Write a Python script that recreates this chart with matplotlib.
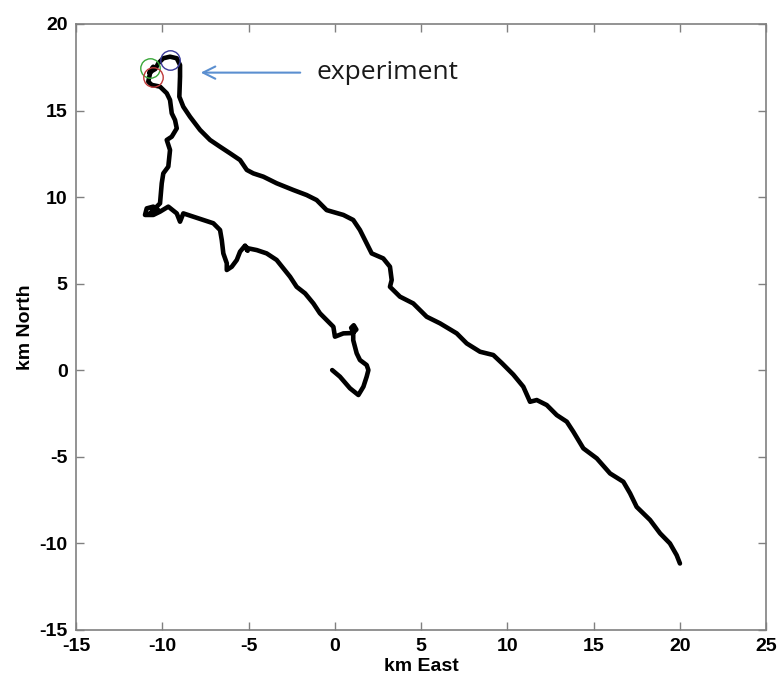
import numpy as np
import matplotlib
matplotlib.use('Agg')
import matplotlib.pyplot as plt

plt.rcParams['font.family'] = ['Liberation Sans', 'DejaVu Sans']
plt.rcParams['axes.unicode_minus'] = False

# track, km east / km north, start at origin
track_x = [-0.15, 0.30, 0.88, 1.37, 1.66, 1.85, 1.95, 1.85, 1.46, 1.27, 1.17, 1.07, 1.07,
           0.95, 1.10, 1.25, 1.05, 0.50, 0.01, -0.08, -0.47, -0.86, -1.24, -1.72, -2.21,
           -2.59, -2.98, -3.37, -3.95, -4.52, -5.01, -5.20, -5.05, -5.20, -5.49, -5.68,
           -5.97, -6.26, -6.26, -6.46, -6.55, -6.65, -7.04, -7.62, -8.20, -8.78, -8.97,
           -9.16, -9.65, -10.13, -10.52, -11.00, -10.90, -10.52, -10.23, -10.71, -10.13,
           -10.03, -9.94, -9.65, -9.55, -9.74, -9.45, -9.16, -9.26, -9.45, -9.55, -9.74,
           -10.13, -10.61, -10.81, -10.71, -10.52, -10.75, -10.40, -10.23, -9.94, -9.55,
           -9.16, -8.97, -8.97, -9.01, -8.78, -8.39, -7.81, -7.23, -6.65, -6.07, -5.49,
           -5.10, -4.72, -4.14, -3.37, -2.40, -1.63, -1.05, -0.47, 0.50, 1.07, 1.46, 1.85,
           2.14, 2.81, 3.20, 3.30, 3.20, 3.78, 4.55, 5.33, 6.10, 7.07, 7.65, 8.42, 9.19,
           9.70, 10.35, 10.93, 11.32, 11.71, 12.29, 12.87, 13.45, 13.83, 14.41, 15.19,
           15.96, 16.73, 17.12, 17.50, 18.28, 18.86, 19.43, 19.82, 20.01]
track_y = [0.01, -0.37, -1.04, -1.43, -0.95, -0.37, 0.01, 0.30, 0.59, 0.98, 1.36, 1.74, 2.22,
           2.45, 2.60, 2.35, 2.15, 2.13, 1.94, 2.51, 2.90, 3.29, 3.86, 4.44, 4.82, 5.40,
           5.89, 6.37, 6.75, 6.94, 7.04, 7.14, 6.90, 7.20, 6.85, 6.37, 5.98, 5.79, 6.18,
           6.75, 7.52, 8.10, 8.49, 8.68, 8.87, 9.06, 8.58, 9.06, 9.45, 9.16, 8.97, 8.97,
           9.35, 9.45, 9.25, 9.06, 9.64, 10.80, 11.37, 11.76, 12.72, 13.30, 13.49, 13.97,
           14.45, 14.84, 15.61, 16.00, 16.38, 16.48, 16.67, 17.15, 17.53, 17.20, 17.40,
           17.73, 18.02, 18.11, 18.02, 17.63, 16.96, 15.80, 15.22, 14.64, 13.88, 13.30,
           12.91, 12.53, 12.14, 11.57, 11.37, 11.18, 10.80, 10.41, 10.12, 9.83, 9.25, 8.97,
           8.68, 8.10, 7.33, 6.75, 6.46, 5.98, 5.21, 4.82, 4.25, 3.86, 3.09, 2.71, 2.13,
           1.55, 1.07, 0.88, 0.40, -0.25, -0.95, -1.82, -1.72, -2.01, -2.59, -2.97, -3.55,
           -4.51, -5.09, -5.96, -6.44, -7.11, -7.89, -8.65, -9.42, -10.00, -10.68, -11.16]

# event markers near the start of the experiment
mark_x = [-9.55, -10.71, -10.54]
mark_y = [17.92, 17.46, 16.94]
mark_colors = ['#3a3a9a', '#3aa83a', '#c03a3a']

fig = plt.figure(figsize=(7.78, 6.79), dpi=100)
ax = fig.add_axes([0.0977, 0.0722, 0.8869, 0.8925])

ax.plot(track_x, track_y, color='black', lw=3.3, solid_joinstyle='round',
        solid_capstyle='round')
for mx, my, mc in zip(mark_x, mark_y, mark_colors):
    ax.plot(mx, my, 'o', ms=14, mfc='none', mec=mc, mew=1.0)

ax.annotate('', xy=(-7.93, 17.19), xytext=(-1.84, 17.19),
            arrowprops=dict(arrowstyle='->', color='#5b8fd0', lw=1.5,
                            mutation_scale=22))
ax.text(-1.03, 17.19, 'experiment', fontsize=19, va='center', ha='left',
        family=['Open Sans', 'DejaVu Sans'], color='#1a1a1a')

ax.set_xlim(-15, 25)
ax.set_ylim(-15, 20)
ax.set_xticks(np.arange(-15, 26, 5))
ax.set_yticks(np.arange(-15, 21, 5))
ax.tick_params(direction='in', top=True, right=True, length=6, width=1,
               color='#808080', labelsize=14, pad=6)
for lab in ax.get_xticklabels() + ax.get_yticklabels():
    lab.set_fontweight('bold')
for sp in ax.spines.values():
    sp.set_color('#808080')
    sp.set_linewidth(1.2)

ax.set_xlabel('km East', fontsize=14, fontweight='bold', labelpad=2)
ax.set_ylabel('km North', fontsize=14, fontweight='bold', labelpad=4)

fig.savefig('out.png', dpi=100)
